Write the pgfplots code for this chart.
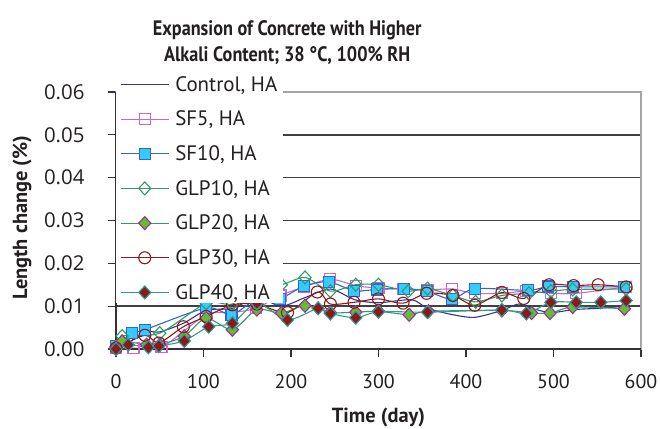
\documentclass[border=0pt]{standalone}
\usepackage{pgfplots}
\pgfplotsset{compat=1.18}
\usepackage{fontspec}
\setmainfont{PT Sans}
\newfontfamily\condfont{PT Sans}[FakeStretch=0.87]
\newfontfamily\ytickfont{Open Sans}
\definecolor{cNavy}{HTML}{333399}
\definecolor{cPink}{HTML}{CC66CC}
\definecolor{cBlue}{HTML}{3366CC}
\definecolor{cCyan}{HTML}{33CCFF}
\definecolor{cGreen}{HTML}{339966}
\definecolor{cLGreen}{HTML}{66BB33}
\definecolor{cPurple}{HTML}{993399}
\definecolor{cRed}{HTML}{8B1A1A}
\definecolor{cTeal}{HTML}{339999}
\definecolor{cText}{HTML}{231F20}
\pgfplotsset{
  layers/mylayers/.define layer set={axis background,axis grid,axis ticks,axis lines,axis tick labels,axis descriptions,pre main,main,axis foreground}{},
}
\begin{document}
\begin{tikzpicture}[x=1bp,y=1bp]
\begin{axis}[
  name=ax,
  set layers=mylayers,
  scale only axis,
  width=525bp, height=257bp,
  xmin=0, xmax=600, ymin=0, ymax=0.06,
  clip=false,
  xtick={0,100,...,600},
  ytick={0,0.01,0.02,0.03,0.04,0.05,0.06},
  tick label style={text=cText},
  yticklabel style={font=\ytickfont\fontsize{20.5}{24}\selectfont, xshift=-20bp, /pgf/number format/.cd,fixed,fixed zerofill,precision=2,assume math mode=true},
  xticklabel style={font=\fontsize{20}{24}\selectfont, yshift=-14bp, /pgf/number format/assume math mode=true},
  scaled y ticks=false,
  tick align=outside, tick pos=left,
  major tick length=8bp,
  tick style={black!80, line width=1.2bp},
  axis line style={draw=gray!70, line width=1.2bp},
  ymajorgrids,
  major grid style={draw=black!75, line width=1.4bp},
  xlabel={\textbf{Time (day)}},
  ylabel={\textbf{Length change (\%)}},
  label style={font=\fontsize{20.5}{24}\selectfont, text=cText},
  xlabel style={at={(rel axis cs:0.5,0)}, anchor=center, yshift=-68bp},
  ylabel style={at={(rel axis cs:0,0.5)}, anchor=center, rotate=0, yshift=94bp, xshift=3bp},
  legend cell align=left,
  legend style={at={(rel axis cs:0.0,1.07)}, anchor=north west, draw=none, fill=white,
    font=\fontsize{21}{25}\selectfont, text=cText, row sep=14.3bp, inner xsep=4bp, inner ysep=0bp,
    /tikz/every odd column/.append style={column sep=4bp}},
  legend image code/.code={\draw[mark repeat=2,mark phase=2,#1] plot coordinates {(0bp,0bp) (24bp,0bp) (48bp,0bp)};},
  every axis plot/.append style={line width=1.1bp, smooth, tension=0.45},
]
% Control, HA
\addplot[cNavy, no marks] coordinates {
(0,0) (14,0.0015) (35,0.004) (50,0.004) (77,0.006) (103,0.009) (133,0.0095) (161,0.012) (189,0.010) (216,0.012) (245,0.014) (273,0.0115) (300,0.0108) (338,0.0115) (356,0.0095) (385,0.008) (410,0.0074) (441,0.009) (460,0.0105) (475,0.0095) (497,0.0085) (523,0.0092) (551,0.0095) (583,0.010)};
\addlegendentry{Control, HA}
% SF5
\addplot[cPink, mark=square, mark size=5.5bp, mark options={fill=white, line width=1.1bp}] coordinates {
(0,0.0002) (20,0.0002) (52,0.0004) (103,0.008) (132,0.0085) (160,0.0095) (188,0.0125) (215,0.0145) (245,0.0163) (274,0.0148) (300,0.0142) (328,0.014) (356,0.0138) (384,0.014) (410,0.013) (441,0.013) (469,0.0135) (497,0.013) (526,0.013) (583,0.0145)};
\addlegendentry{SF5, HA}
% SF10
\addplot[cBlue, mark=square*, mark size=5.5bp, mark options={fill=cCyan, draw=cBlue, line width=1.1bp}] coordinates {
(0,0.0006) (18,0.0037) (33,0.0045) (103,0.0096) (132,0.008) (160,0.0115) (187,0.0117) (215,0.0147) (243,0.0157) (272,0.0136) (298,0.0139) (329,0.0141) (355,0.0135) (384,0.0116) (410,0.0141) (471,0.0137) (494,0.0146) (522,0.0145) (581,0.0145)};
\addlegendentry{SF10, HA}
% GLP10
\addplot[cGreen, mark=diamond, mark size=6.5bp, mark options={fill=white, line width=1.1bp, xscale=1.25}] coordinates {
(0,0.0005) (7,0.003) (50,0.0037) (103,0.0107) (133,0.0105) (161,0.0148) (189,0.015) (216,0.0167) (245,0.0135) (274,0.015) (300,0.015) (334,0.0135) (356,0.0141) (385,0.0125) (411,0.011) (441,0.0125) (472,0.013) (497,0.0135) (522,0.0139) (583,0.014)};
\addlegendentry{GLP10, HA}
% GLP20
\addplot[cGreen, mark=diamond*, mark size=6.5bp, mark options={fill=cLGreen, draw=cPurple, line width=1.1bp, xscale=1.25}] coordinates {
(0,0.0002) (7,0.0018) (35,0.001) (50,0.001) (78,0.003) (103,0.0072) (133,0.0045) (161,0.0092) (189,0.0084) (216,0.0101) (245,0.0085) (274,0.0086) (300,0.0088) (335,0.008) (357,0.0088) (441,0.009) (475,0.0084) (496,0.0084) (522,0.0098) (581,0.0094)};
\addlegendentry{GLP20, HA}
% GLP30
\addplot[cRed, mark=o, mark size=6bp, mark options={fill=white, line width=1.1bp}] coordinates {
(0,0.0002) (33,0.0032) (49,0.0014) (77,0.0052) (103,0.0076) (133,0.0103) (161,0.0105) (196,0.0085) (230,0.0133) (245,0.0105) (272,0.0109) (300,0.0117) (328,0.0107) (355,0.013) (385,0.0125) (410,0.0102) (441,0.0132) (466,0.0118) (495,0.015) (523,0.0148) (551,0.015) (583,0.0145)};
\addlegendentry{GLP30, HA}
% GLP40
\addplot[cTeal, mark=diamond*, mark size=6.5bp, mark options={fill=cRed, draw=cTeal, line width=1.1bp, xscale=1.25}] coordinates {
(0,0) (14,0.001) (37,0.0004) (49,0.0007) (78,0.0019) (106,0.0052) (133,0.006) (161,0.0107) (196,0.0068) (231,0.0095) (245,0.0083) (274,0.0073) (300,0.0087) (356,0.0086) (441,0.0091) (469,0.0083) (497,0.0109) (526,0.0109) (554,0.0109) (583,0.0113)};
\addlegendentry{GLP40, HA}
\draw[black!80, line width=1.3bp] (rel axis cs:0,1) -- (rel axis cs:0,0) -- (rel axis cs:1,0);
\node[font=\condfont\bfseries\fontsize{21}{26}\selectfont, text=cText, align=center, anchor=south] at (rel axis cs:0.326,1) [yshift=24bp] {Expansion of Concrete with Higher\\Alkali Content; 38 °C, 100\% RH};
\end{axis}
\pgfresetboundingbox
\path[use as bounding box] ([shift={(-116bp,-80bp)}]ax.south west) rectangle ([shift={(544bp,349bp)}]ax.south west);
\end{tikzpicture}
\end{document}
